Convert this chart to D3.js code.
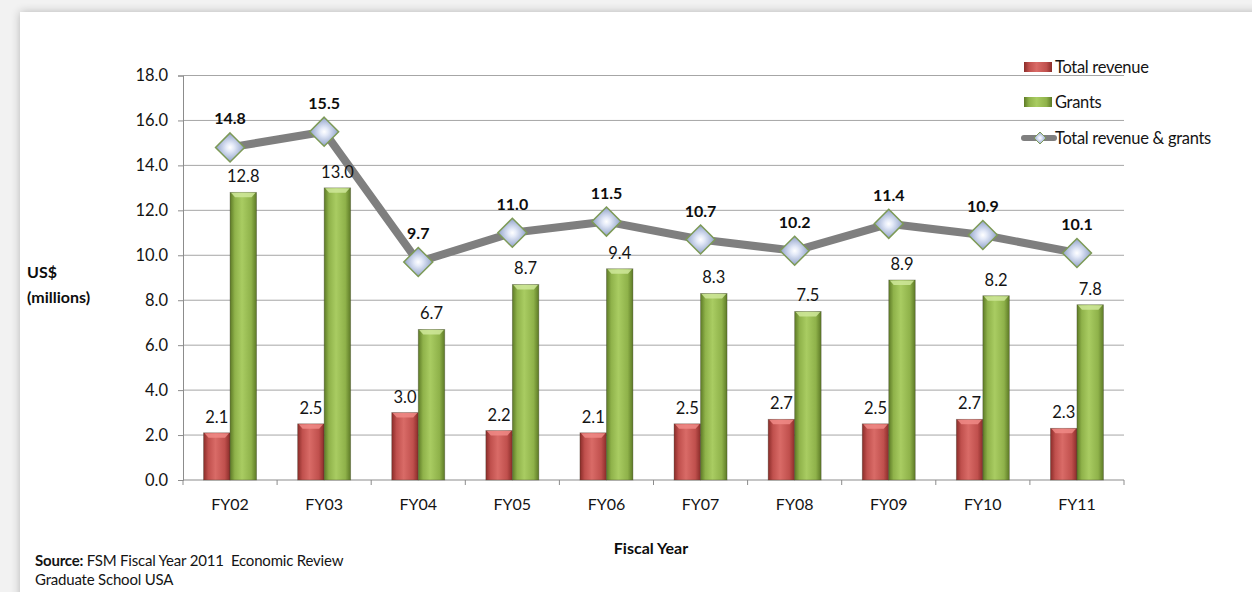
<!DOCTYPE html>
<html>
<head>
<meta charset="utf-8">
<script src="https://cdn.jsdelivr.net/npm/d3@7"></script>
<style>
  html, body { margin: 0; padding: 0; background: #f2f2f2; }
  svg { display: block; font-family: Lato, "Open Sans", sans-serif; }
</style>
</head>
<body>
<svg id="chart" width="1252" height="592"></svg>
<script>
// Fiscal years and series (US$ millions)
const years = ["FY02", "FY03", "FY04", "FY05", "FY06", "FY07", "FY08", "FY09", "FY10", "FY11"];
const totalRevenue = [2.1, 2.5, 3.0, 2.2, 2.1, 2.5, 2.7, 2.5, 2.7, 2.3];
const grants = [12.8, 13.0, 6.7, 8.7, 9.4, 8.3, 7.5, 8.9, 8.2, 7.8];
const totalRevenueGrants = [14.8, 15.5, 9.7, 11.0, 11.5, 10.7, 10.2, 11.4, 10.9, 10.1];
const yTicks = [0, 2, 4, 6, 8, 10, 12, 14, 16, 18];

const svg = d3.select("#chart");
const defs = svg.append("defs");

// panel shadow
const sh = defs.append("filter").attr("id", "shadow").attr("x", "-5%").attr("y", "-5%").attr("width", "110%").attr("height", "110%");
sh.append("feGaussianBlur").attr("in", "SourceAlpha").attr("stdDeviation", 5);
sh.append("feComponentTransfer").append("feFuncA").attr("type", "linear").attr("slope", 0.25);
const m = sh.append("feMerge");
m.append("feMergeNode");
m.append("feMergeNode").attr("in", "SourceGraphic");

svg.append("rect").attr("x", 20).attr("y", 12).attr("width", 1260).attr("height", 600)
  .attr("fill", "#ffffff").attr("filter", "url(#shadow)");

// bar gradients (cylinder look)
function barGradient(id, dark, mid, light) {
  const g = defs.append("linearGradient").attr("id", id).attr("x1", 0).attr("x2", 1).attr("y1", 0).attr("y2", 0);
  g.append("stop").attr("offset", "0%").attr("stop-color", dark);
  g.append("stop").attr("offset", "18%").attr("stop-color", mid);
  g.append("stop").attr("offset", "45%").attr("stop-color", light);
  g.append("stop").attr("offset", "80%").attr("stop-color", mid);
  g.append("stop").attr("offset", "100%").attr("stop-color", dark);
}
barGradient("gRed", "#8a2c29", "#c0504d", "#d96b67");
barGradient("gGreen", "#5d7a26", "#8fb24a", "#a9cc62");

const dg = defs.append("radialGradient").attr("id", "gDiamond").attr("cx", "50%").attr("cy", "50%").attr("r", "55%");
dg.append("stop").attr("offset", "0%").attr("stop-color", "#ffffff");
dg.append("stop").attr("offset", "25%").attr("stop-color", "#e4eaf8");
dg.append("stop").attr("offset", "70%").attr("stop-color", "#aab8d8");
dg.append("stop").attr("offset", "100%").attr("stop-color", "#7f8fae");

const plotLeft = 183, plotRight = 1124, plotTop = 75.5, plotBottom = 480;

const x = d3.scaleBand().domain(years).range([plotLeft, plotRight]).paddingInner(0).paddingOuter(0);
const y = d3.scaleLinear().domain([0, 18]).range([plotBottom, plotTop]);

const txt = "#141414";

// gridlines
svg.append("g").selectAll("line").data(yTicks.filter(d => d > 0)).join("line")
  .attr("x1", plotLeft).attr("x2", plotRight)
  .attr("y1", d => y(d)).attr("y2", d => y(d))
  .attr("stroke", "#a6a6a6").attr("stroke-width", 1);

// y axis
const yAxis = svg.append("g").attr("transform", `translate(${plotLeft},0)`)
  .call(d3.axisLeft(y).tickValues(yTicks).tickFormat(d3.format(".1f")).tickSize(5).tickPadding(10));
yAxis.select(".domain").attr("stroke", "#8c8c8c");
yAxis.selectAll(".tick line").attr("stroke", "#8c8c8c");
yAxis.selectAll("text").attr("font-size", 16.5).attr("fill", txt).attr("font-family", "Lato, sans-serif");

// x axis with ticks between categories
const xAxis = svg.append("g").attr("transform", `translate(0,${plotBottom})`);
xAxis.append("line").attr("x1", plotLeft).attr("x2", plotRight).attr("y1", 0).attr("y2", 0).attr("stroke", "#8c8c8c");
xAxis.selectAll("line.tk").data(d3.range(years.length + 1)).join("line").attr("class", "tk")
  .attr("x1", i => plotLeft + i * x.bandwidth()).attr("x2", i => plotLeft + i * x.bandwidth())
  .attr("y1", 0).attr("y2", 5).attr("stroke", "#8c8c8c");
xAxis.selectAll("text").data(years).join("text")
  .attr("x", d => x(d) + x.bandwidth() / 2).attr("y", 30)
  .attr("text-anchor", "middle").attr("font-size", 16).attr("fill", txt).text(d => d);

const bw = 26.5;
const barLabels = svg.append("g");
function drawBars(values, offset, fill, capFill) {
  const g = svg.append("g");
  g.selectAll("rect.bar").data(values).join("rect").attr("class", "bar")
    .attr("x", (d, i) => x(years[i]) + x.bandwidth() / 2 + offset)
    .attr("y", d => y(d))
    .attr("width", bw)
    .attr("height", d => plotBottom - y(d))
    .attr("fill", fill).attr("stroke", "#3a3a2a").attr("stroke-opacity", 0.4).attr("stroke-width", 0.8);
  g.selectAll("path.cap").data(values).join("path").attr("class", "cap")
    .attr("d", (d, i) => {
      const x0 = x(years[i]) + x.bandwidth() / 2 + offset;
      const y0 = y(d);
      return `M${x0 + 1},${y0 + 0.5} L${x0 + bw - 1},${y0 + 0.5} L${x0 + bw - 5},${y0 + 5} L${x0 + 5},${y0 + 5} Z`;
    })
    .attr("fill", capFill).attr("opacity", 0.85);
  return values.map((d, i) => ({ v: d, x: x(years[i]) + x.bandwidth() / 2 + offset + bw / 2 }));
}
const redLabels = drawBars(totalRevenue, -bw, "url(#gRed)", "#f08a86");
const greenLabels = drawBars(grants, 0, "url(#gGreen)", "#cfe89a");

// total line
const cx = (d, i) => x(years[i]) + x.bandwidth() / 2;
const line = d3.line().x(cx).y(d => y(d));
svg.append("path").datum(totalRevenueGrants).attr("d", line)
  .attr("fill", "none").attr("stroke", "#7f7f7f").attr("stroke-width", 8).attr("stroke-linejoin", "round");

const dia = (px, py, r) => `M${px},${py - r} L${px + r},${py} L${px},${py + r} L${px - r},${py} Z`;
svg.append("g").selectAll("path").data(totalRevenueGrants).join("path")
  .attr("d", (d, i) => dia(cx(d, i), y(d), 14.5))
  .attr("fill", "url(#gDiamond)").attr("stroke", "#7d9a56").attr("stroke-width", 1.5);

// bar value labels, drawn above the line
svg.append("g").selectAll("text").data(redLabels.concat(greenLabels)).join("text")
  .attr("x", d => d.x).attr("y", d => y(d.v) - 10)
  .attr("text-anchor", "middle").attr("font-size", 16.5).attr("fill", txt)
  .text(d => d.v.toFixed(1));

svg.append("g").selectAll("text").data(totalRevenueGrants).join("text")
  .attr("x", cx).attr("y", d => y(d) - 23)
  .attr("text-anchor", "middle").attr("font-size", 16).attr("font-weight", "bold").attr("fill", "#0d0d0d")
  .text(d => d.toFixed(1));

// legend
const legend = svg.append("g");
const lx = 1024, ly = [67, 102, 138];
const names = ["Total revenue", "Grants", "Total revenue & grants"];
legend.append("rect").attr("x", lx).attr("y", ly[0] - 5).attr("width", 28).attr("height", 10).attr("fill", "url(#gRed)");
legend.append("rect").attr("x", lx).attr("y", ly[1] - 5).attr("width", 28).attr("height", 10).attr("fill", "url(#gGreen)");
legend.append("line").attr("x1", lx).attr("x2", lx + 30).attr("y1", ly[2]).attr("y2", ly[2])
  .attr("stroke", "#7f7f7f").attr("stroke-width", 6).attr("stroke-linecap", "round");
legend.append("path").attr("d", dia(lx + 16, ly[2], 6)).attr("fill", "url(#gDiamond)").attr("stroke", "#7d9a56");
legend.selectAll("text").data(names).join("text")
  .attr("x", lx + 31).attr("y", (d, i) => ly[i] + 5.5)
  .attr("font-size", 16.5).attr("letter-spacing", -0.3).attr("fill", txt).text(d => d);

// axis titles
const yt = svg.append("text").attr("x", 27).attr("font-size", 16).attr("font-weight", "bold").attr("fill", "#0d0d0d");
yt.append("tspan").attr("x", 27).attr("y", 278).text("US$");
yt.append("tspan").attr("x", 27).attr("y", 303).text("(millions)");

svg.append("text").attr("x", 651).attr("y", 554).attr("text-anchor", "middle")
  .attr("font-size", 16).attr("font-weight", "bold").attr("fill", "#0d0d0d").text("Fiscal Year");

// source note
const src = svg.append("text").attr("x", 35).attr("y", 566).attr("font-size", 15).attr("letter-spacing", -0.2).attr("fill", txt)
  .attr("xml:space", "preserve");
src.append("tspan").attr("font-weight", "bold").text("Source: ");
src.append("tspan").text("FSM Fiscal Year 2011  Economic Review");
svg.append("text").attr("x", 35).attr("y", 585).attr("font-size", 15).attr("letter-spacing", -0.2).attr("fill", txt).text("Graduate School USA");
</script>
</body>
</html>
